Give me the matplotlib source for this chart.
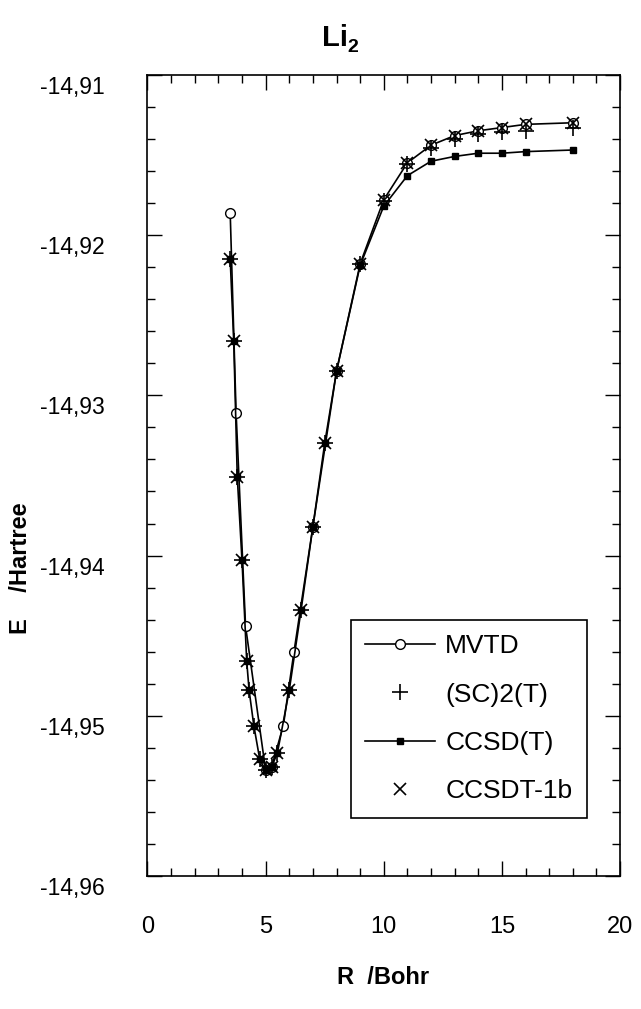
import matplotlib.pyplot as plt
from matplotlib.ticker import MultipleLocator, FuncFormatter
from matplotlib.transforms import ScaledTranslation

plt.rcParams['font.family'] = ['Liberation Sans', 'DejaVu Sans']

# MVTD (cercles, amb línia)
r_mvtd = [3.5, 3.75, 4.15, 5.0, 5.25, 5.75, 6.2, 7.0, 8.0, 9.0, 10.0, 11.0, 12.0, 13.0, 14.0, 15.0, 16.0, 18.0]
e_mvtd = [-14.9186, -14.9311, -14.9444, -14.9534, -14.9532, -14.9506, -14.9460, -14.9382, -14.9285,
          -14.9218, -14.9178, -14.9155, -14.9144, -14.9138, -14.9135, -14.9133, -14.9131, -14.9130]

# punts comuns dels mètodes CC
r_cc = [3.5, 3.65, 3.8, 4.0, 4.2, 4.3, 4.5, 4.75, 5.0, 5.25, 5.5, 6.0, 6.5, 7.0, 7.5, 8.0, 9.0,
        10.0, 11.0, 12.0, 13.0, 14.0, 15.0, 16.0, 18.0]
e_sc2t = [-14.9215, -14.9266, -14.9351, -14.9403, -14.9466, -14.9484, -14.9506, -14.9527, -14.9534, -14.9532,
          -14.9523, -14.9484, -14.9434, -14.9382, -14.9330, -14.9285, -14.9218,
          -14.9179, -14.9156, -14.9146, -14.9140, -14.9137, -14.9136, -14.9135, -14.9133]
e_ccsdt = [-14.9215, -14.9266, -14.9351, -14.9403, -14.9466, -14.9484, -14.9506, -14.9527, -14.9534, -14.9532,
           -14.9523, -14.9484, -14.9434, -14.9382, -14.9330, -14.9285, -14.9219,
           -14.9182, -14.9163, -14.9154, -14.9151, -14.9149, -14.9149, -14.9148, -14.9147]
e_ccsdt1b = [-14.9215, -14.9266, -14.9351, -14.9403, -14.9466, -14.9484, -14.9506, -14.9527, -14.9534, -14.9532,
             -14.9523, -14.9484, -14.9434, -14.9382, -14.9330, -14.9285, -14.9218,
             -14.9178, -14.9155, -14.9144, -14.9138, -14.9135, -14.9133, -14.9131, -14.9130]

fig = plt.figure(figsize=(6.41, 10.09), dpi=100)
ax = fig.add_axes([0.2301, 0.1316, 0.7372, 0.7944])

ax.plot(r_mvtd, e_mvtd, color="black", lw=1.2, marker="o", ms=7, mfc="white", mec="black", mew=1,
        label="MVTD", zorder=3)
ax.plot(r_cc, e_sc2t, ls="none", marker="+", ms=11, mec="black", mew=1.2, label="(SC)2(T)", zorder=4)
ax.plot(r_cc, e_ccsdt, color="black", lw=1.2, marker="s", ms=5, mfc="black", mec="black",
        label="CCSD(T)", zorder=4)
ax.plot(r_cc, e_ccsdt1b, ls="none", marker="x", ms=8, mec="black", mew=1.2, label="CCSDT-1b", zorder=4)

ax.set_xlim(0, 20)
ax.set_ylim(-14.96, -14.91)
ax.xaxis.set_major_locator(MultipleLocator(5))
ax.xaxis.set_minor_locator(MultipleLocator(1))
ax.yaxis.set_major_locator(MultipleLocator(0.01))
ax.yaxis.set_minor_locator(MultipleLocator(0.002))
ax.yaxis.set_major_formatter(FuncFormatter(lambda v, p: f"{v:.2f}".replace(".", ",")))
ax.xaxis.set_major_formatter(FuncFormatter(lambda v, p: f"{v:.0f}"))

ax.tick_params(which="both", direction="in", top=True, right=True, width=1)
ax.tick_params(which="major", length=11)
ax.tick_params(which="minor", length=6)
ax.tick_params(axis="x", which="major", pad=29, labelsize=17)
ax.tick_params(axis="y", which="major", pad=31, labelsize=16.5)
for lab in ax.get_yticklabels():
    lab.set_transform(lab.get_transform() + ScaledTranslation(0, -0.1, fig.dpi_scale_trans))
for s in ax.spines.values():
    s.set_linewidth(1.2)

leg = ax.legend(loc="lower right", bbox_to_anchor=(0.930, 0.073), fontsize=19, frameon=True, fancybox=False,
                edgecolor="black", framealpha=1, handlelength=2.65, labelspacing=0.92, borderpad=0.55,
                handletextpad=0.38, borderaxespad=0)
leg.get_frame().set_linewidth(1.2)

fig.text(0.522, 0.962, "Li", fontsize=21, fontweight="bold", ha="center", va="center")
fig.text(0.551, 0.953, "2", fontsize=14, fontweight="bold", ha="center", va="center")
fig.text(0.597, 0.031, "R  /Bohr", fontsize=17, fontweight="bold", ha="center", va="center")
fig.text(0.032, 0.437, "E    /Hartree", fontsize=17, fontweight="bold", ha="center", va="center", rotation=90)

fig.savefig("out.png", dpi=100)
